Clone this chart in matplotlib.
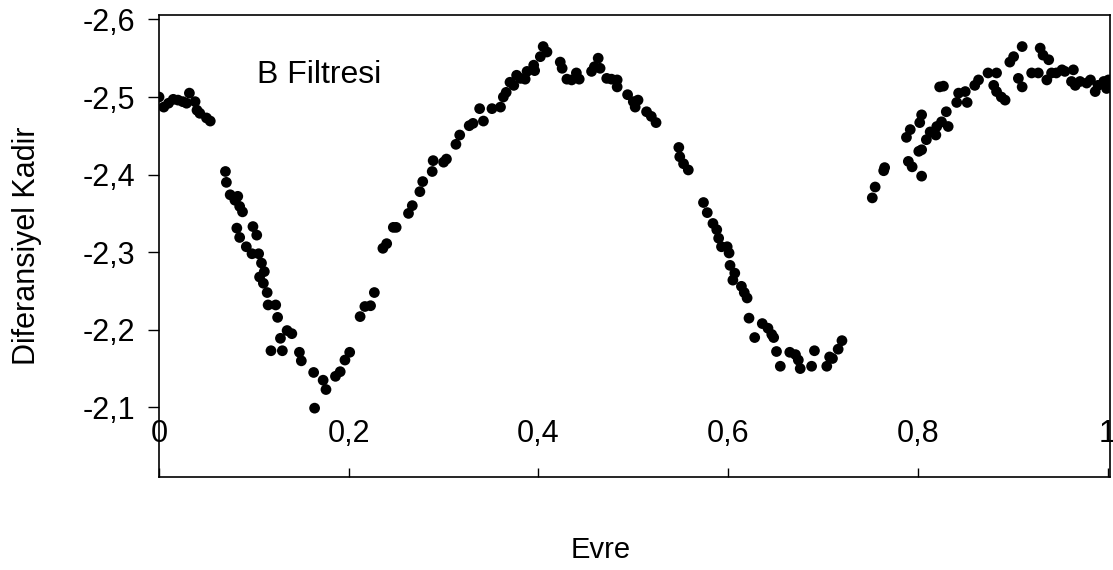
import matplotlib.pyplot as plt

# phase and differential magnitude
phase = [
    0.000, 0.005, 0.010, 0.015, 0.020, 0.025, 0.029, 0.032, 0.038, 0.040,
    0.043, 0.050, 0.054,
    0.070, 0.071, 0.075, 0.080, 0.083, 0.085, 0.088, 0.082, 0.085, 0.099,
    0.103, 0.092, 0.098, 0.105, 0.108, 0.111, 0.106, 0.110, 0.114, 0.115,
    0.123, 0.125, 0.135, 0.140, 0.128, 0.118, 0.130, 0.148, 0.150, 0.163,
    0.173, 0.176, 0.164, 0.186, 0.191, 0.196, 0.201,
    0.212, 0.217, 0.223, 0.227, 0.236, 0.240, 0.247, 0.250, 0.263, 0.267,
    0.275, 0.278, 0.288, 0.289, 0.300, 0.303, 0.313, 0.317, 0.327, 0.331,
    0.342, 0.338, 0.351, 0.360, 0.363, 0.366, 0.370, 0.374, 0.377, 0.381,
    0.386, 0.388, 0.395, 0.396, 0.402, 0.405, 0.409,
    0.423, 0.425, 0.430, 0.435, 0.440, 0.443, 0.456, 0.459, 0.463, 0.465,
    0.472, 0.477, 0.483, 0.483, 0.494, 0.500, 0.505, 0.502, 0.514, 0.519,
    0.524, 0.548, 0.549, 0.553, 0.558, 0.574, 0.578, 0.584, 0.588, 0.590,
    0.593, 0.599, 0.601, 0.602, 0.607, 0.605, 0.614, 0.617, 0.620, 0.622,
    0.628, 0.636, 0.642, 0.646, 0.648, 0.651, 0.655, 0.665, 0.671, 0.674,
    0.676, 0.688, 0.691, 0.704, 0.707, 0.710, 0.716, 0.720,
    0.752, 0.755, 0.764, 0.765, 0.788, 0.792, 0.790, 0.794, 0.804, 0.801,
    0.804, 0.802, 0.804, 0.809, 0.813, 0.819, 0.820, 0.825, 0.830, 0.832,
    0.823, 0.827, 0.841, 0.843, 0.850, 0.852, 0.860, 0.864, 0.874, 0.883,
    0.880, 0.883, 0.888, 0.892, 0.897, 0.901, 0.906, 0.910, 0.910, 0.920,
    0.929, 0.932, 0.938, 0.927, 0.936, 0.941, 0.946, 0.952, 0.955, 0.964,
    0.962, 0.966, 0.971, 0.978, 0.982, 0.987, 0.990, 0.996, 0.999, 1.001,
]
mag = [
    -2.500, -2.487, -2.492, -2.497, -2.496, -2.494, -2.492, -2.505, -2.494, -2.483,
    -2.479, -2.473, -2.469,
    -2.404, -2.390, -2.374, -2.367, -2.372, -2.359, -2.352, -2.331, -2.319, -2.333,
    -2.322, -2.307, -2.298, -2.298, -2.286, -2.275, -2.268, -2.260, -2.248, -2.232,
    -2.232, -2.216, -2.199, -2.195, -2.189, -2.173, -2.173, -2.171, -2.160, -2.145,
    -2.135, -2.123, -2.099, -2.140, -2.146, -2.161, -2.171,
    -2.217, -2.230, -2.231, -2.248, -2.305, -2.311, -2.332, -2.332, -2.350, -2.360,
    -2.378, -2.391, -2.404, -2.418, -2.416, -2.420, -2.439, -2.451, -2.463, -2.466,
    -2.469, -2.485, -2.485, -2.487, -2.500, -2.506, -2.519, -2.515, -2.528, -2.524,
    -2.523, -2.533, -2.541, -2.534, -2.552, -2.565, -2.558,
    -2.545, -2.537, -2.523, -2.522, -2.531, -2.523, -2.533, -2.539, -2.550, -2.537,
    -2.524, -2.523, -2.522, -2.513, -2.503, -2.494, -2.496, -2.487, -2.481, -2.475,
    -2.467, -2.435, -2.423, -2.414, -2.406, -2.364, -2.351, -2.337, -2.329, -2.318,
    -2.307, -2.307, -2.299, -2.283, -2.273, -2.264, -2.256, -2.248, -2.241, -2.215,
    -2.190, -2.208, -2.202, -2.194, -2.190, -2.172, -2.153, -2.171, -2.168, -2.161,
    -2.150, -2.153, -2.173, -2.153, -2.165, -2.163, -2.175, -2.186,
    -2.370, -2.384, -2.405, -2.409, -2.448, -2.458, -2.417, -2.410, -2.398, -2.430,
    -2.432, -2.467, -2.477, -2.445, -2.455, -2.451, -2.462, -2.468, -2.481, -2.462,
    -2.513, -2.514, -2.493, -2.505, -2.507, -2.493, -2.515, -2.522, -2.531, -2.531,
    -2.515, -2.507, -2.500, -2.496, -2.545, -2.552, -2.524, -2.513, -2.565, -2.531,
    -2.563, -2.554, -2.548, -2.531, -2.522, -2.531, -2.531, -2.535, -2.533, -2.535,
    -2.520, -2.515, -2.520, -2.518, -2.522, -2.507, -2.515, -2.520, -2.511, -2.522,
]

x_ticks = [0, 0.2, 0.4, 0.6, 0.8, 1.0]
x_tick_labels = ["0", "0,2", "0,4", "0,6", "0,8", "1"]
y_ticks = [-2.6, -2.5, -2.4, -2.3, -2.2, -2.1]
y_tick_labels = ["-2,6", "-2,5", "-2,4", "-2,3", "-2,2", "-2,1"]

plt.rcParams['font.family'] = ['Liberation Sans', 'DejaVu Sans']

fig = plt.figure(figsize=(11.13, 5.70), dpi=100)
ax = fig.add_axes([0.1429, 0.1632, 0.8544, 0.8105])

ax.scatter(phase, mag, s=60, color='black', edgecolors='none', zorder=3)

ax.set_xlim(0, 1.0026)
ax.set_ylim(-2.0103, -2.6057)

ax.set_xticks(x_ticks)
ax.set_xticklabels(x_tick_labels)
ax.set_yticks(y_ticks)
ax.set_yticklabels(y_tick_labels)

ax.tick_params(axis='x', direction='in', length=6.5, width=1, pad=-42, labelsize=22)
ax.tick_params(axis='y', direction='out', length=8, width=1, pad=9, labelsize=22)

for sp in ax.spines.values():
    sp.set_linewidth(1.2)
    sp.set_color('black')

ax.text(0.103, 0.87, "B Filtresi", transform=ax.transAxes, fontsize=23,
        ha='left', va='center')

ax.set_xlabel("Evre", fontsize=21)
ax.xaxis.set_label_coords(0.4648, -0.128)
ax.set_ylabel("Diferansiyel Kadir", fontsize=22)
ax.yaxis.set_label_coords(-0.123, 0.5)

fig.savefig("out.png", dpi=100)
